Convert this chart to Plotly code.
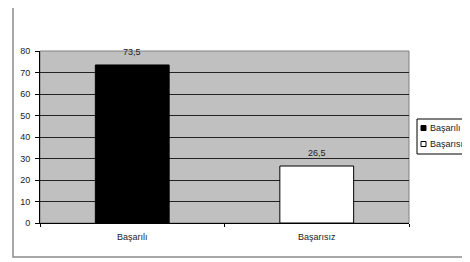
import plotly.graph_objects as go

categories = ["Başarılı", "Başarısız"]
values = [73.5, 26.5]
bar_colors = ["#000000", "#ffffff"]
y_ticks = [0, 10, 20, 30, 40, 50, 60, 70, 80]

# page body has an 8px margin: the figure starts at screen (8, 8)
OFF = 8
W, H = 470, 262
L, R, T, B = 32, 69, 43, 47
pw, ph = W - L - R, H - T - B

def px_x(sx):
    return (sx - OFF - L) / pw

def px_y(sy):
    return (H - B - (sy - OFF)) / ph

FONT = "Liberation Sans, Arial, sans-serif"
TXT = "#222222"

fig = go.Figure()
for cat, val, col in zip(categories, values, bar_colors):
    fig.add_trace(go.Bar(
        x=[cat], y=[val], name=cat,
        marker=dict(color=col, line=dict(color="#000000", width=1)),
        width=0.4, showlegend=False, hoverinfo="x+y",
    ))

annotations = []
for cat, val in zip(categories, values):
    annotations.append(dict(
        x=cat, y=val, xref="x", yref="y",
        text=f"{val:.1f}".replace(".", ","),
        showarrow=False, yshift=13,
        font=dict(family=FONT, size=9, color=TXT),
    ))

shapes = [
    # plot area border
    dict(type="rect", xref="paper", yref="paper", x0=0, x1=1, y0=0, y1=1,
         line=dict(color="#808080", width=1), layer="below"),
    # outer chart border
    dict(type="rect", xref="paper", yref="paper",
         x0=px_x(13), x1=px_x(490), y0=px_y(257), y1=(H - T - 0.75) / ph,
         line=dict(color="#8c8c8c", width=1.5)),
    # legend box
    dict(type="rect", xref="paper", yref="paper",
         x0=px_x(417), x1=px_x(490), y0=px_y(154), y1=px_y(119),
         line=dict(color="#000000", width=1), fillcolor="#ffffff"),
]

legend_rows = [128, 144]
for cat, col, ry in zip(categories, bar_colors, legend_rows):
    shapes.append(dict(type="rect", xref="paper", yref="paper",
                       x0=px_x(421), x1=px_x(426), y0=px_y(ry + 2.5), y1=px_y(ry - 2.5),
                       line=dict(color="#000000", width=1), fillcolor=col))
    annotations.append(dict(
        x=px_x(427.5), y=px_y(ry), xref="paper", yref="paper",
        xanchor="left", yanchor="middle", text=cat, showarrow=False,
        font=dict(family=FONT, size=9, color=TXT),
    ))

fig.update_layout(
    width=W, height=H, autosize=False,
    margin=dict(l=L, r=R, t=T, b=B, pad=0),
    paper_bgcolor="#ffffff", plot_bgcolor="#c0c0c0",
    barmode="overlay", showlegend=False,
    font=dict(family=FONT, size=9, color=TXT),
    annotations=annotations, shapes=shapes,
)
fig.update_xaxes(
    type="category", tickson="boundaries", ticks="outside", ticklen=3,
    tickcolor="#000000", showline=True, linecolor="#000000", linewidth=1,
    showgrid=False, ticklabelstandoff=5,
    tickfont=dict(family=FONT, size=9, color=TXT),
)
fig.update_yaxes(
    range=[0, 80], tickvals=y_ticks, ticks="outside", ticklen=4,
    tickcolor="#000000", showline=True, linecolor="#000000", linewidth=1,
    showgrid=True, gridcolor="#222222", gridwidth=1, zeroline=False,
    ticklabelstandoff=3,
    tickfont=dict(family=FONT, size=9, color=TXT),
)

fig.write_html("out.html")
